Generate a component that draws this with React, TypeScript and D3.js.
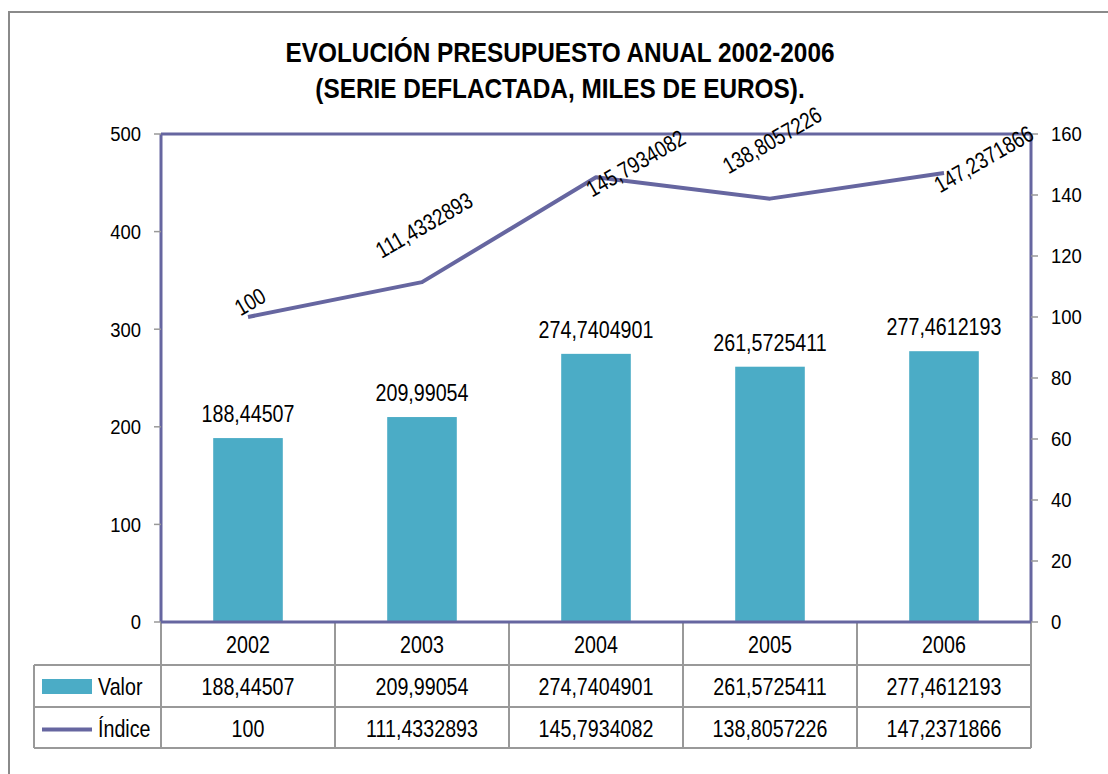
import React from "react";
import * as d3 from "d3";

const YEARS = ["2002", "2003", "2004", "2005", "2006"];
const VALOR = [188.44507, 209.99054, 274.7404901, 261.5725411, 277.4612193];
const VALOR_TXT = ["188,44507", "209,99054", "274,7404901", "261,5725411", "277,4612193"];
const INDICE = [100, 111.4332893, 145.7934082, 138.8057226, 147.2371866];
const INDICE_TXT = ["100", "111,4332893", "145,7934082", "138,8057226", "147,2371866"];
const LEFT_TICKS = [0, 100, 200, 300, 400, 500];
const RIGHT_TICKS = [0, 20, 40, 60, 80, 100, 120, 140, 160];
const INDICE_LABEL_MODE = ["above", "above", "right", "above", "right"];
const TITLE = ["EVOLUCIÓN PRESUPUESTO ANUAL 2002-2006", "(SERIE DEFLACTADA, MILES DE EUROS)."];

const FONT = '"Liberation Sans", Arial, sans-serif';
const BAR = "#4BACC6";
const LINE = "#6666A0";
const GRID = "#999999";
const SX = 0.82;

function measure(text: string, size: number, weight = "normal") {
  if (typeof document === "undefined") return text.length * size * 0.5;
  const c = document.createElement("canvas");
  const ctx = c.getContext("2d");
  if (!ctx) return text.length * size * 0.5;
  ctx.font = `${weight} ${size}px ${FONT}`;
  return ctx.measureText(text).width;
}

type TP = {
  x: number;
  y: number;
  size: number;
  anchor?: "start" | "middle" | "end";
  rot?: number;
  sx?: number;
  bold?: boolean;
  middle?: boolean;
  children: React.ReactNode;
};
function T({ x, y, size, anchor = "start", rot = 0, sx = SX, bold = false, middle = true, children }: TP) {
  return (
    <text
      transform={`translate(${x},${y}) rotate(${rot}) scale(${sx},1)`}
      textAnchor={anchor}
      dy={middle ? "0.35em" : undefined}
      fontSize={size}
      fontWeight={bold ? "bold" : "normal"}
      fill="#000"
    >
      {children}
    </text>
  );
}

export default function App() {
  const W = 1108, H = 774;
  const pl = 161, pr = 1031, pt = 134, pb = 622;
  const x = d3.scaleBand<string>().domain(YEARS).range([pl, pr]).padding(0);
  const yL = d3.scaleLinear().domain([0, 500]).range([pb, pt]);
  const yR = d3.scaleLinear().domain([0, 160]).range([pb, pt]);
  const bw = x.bandwidth() * 0.4;
  const cx = (y: string) => (x(y) as number) + x.bandwidth() / 2;
  const line = d3.line<number>().x((_, i) => cx(YEARS[i])).y((d) => yR(d));
  const fs = 24;
  const lfs = 23;
  const tickFs = 21;
  const rowH = [pb, 665, 707, 748];
  const tableLeft = 34;
  const ang = 30;
  const rad = (ang * Math.PI) / 180;

  return (
    <svg width={W} height={H} style={{ position: "absolute", left: 0, top: 0, fontFamily: FONT }}>
      <rect x={0} y={0} width={W} height={H} fill="#fff" />
      <rect x={9} y={12} width={W + 20} height={H + 20} fill="none" stroke="#8a8a8a" strokeWidth={2} />
      {TITLE.map((t, i) => (
        <T key={t} x={560} y={62 + i * 36} size={28} sx={0.87} bold anchor="middle" middle={false}>
          {t}
        </T>
      ))}
      {/* bars */}
      {VALOR.map((v, i) => (
        <rect key={YEARS[i]} x={cx(YEARS[i]) - bw / 2} y={yL(v)} width={bw} height={pb - yL(v)} fill={BAR} />
      ))}
      {/* plot border */}
      <line x1={pl} x2={pr} y1={pt} y2={pt} stroke={LINE} strokeWidth={3} />
      <line x1={pl} x2={pl} y1={pt} y2={pb} stroke={LINE} strokeWidth={3} />
      <line x1={pr} x2={pr} y1={pt} y2={pb} stroke={LINE} strokeWidth={3} />
      {/* left axis */}
      {LEFT_TICKS.map((t) => (
        <g key={"l" + t}>
          <line x1={pl - 7} x2={pl} y1={yL(t)} y2={yL(t)} stroke={GRID} strokeWidth={1.5} />
          <T x={pl - 20} y={yL(t)} anchor="end" size={tickFs} sx={0.88}>
            {t}
          </T>
        </g>
      ))}
      {/* right axis */}
      {RIGHT_TICKS.map((t) => (
        <g key={"r" + t}>
          <line x1={pr} x2={pr + 7} y1={yR(t)} y2={yR(t)} stroke={GRID} strokeWidth={1.5} />
          <T x={pr + 20} y={yR(t)} anchor="start" size={tickFs} sx={0.88}>
            {t}
          </T>
        </g>
      ))}
      {/* line */}
      <path d={line(INDICE) || ""} fill="none" stroke={LINE} strokeWidth={4} strokeLinejoin="round" />
      {/* bar labels */}
      {VALOR.map((v, i) => (
        <T key={"bl" + i} x={cx(YEARS[i])} y={yL(v) - 16} anchor="middle" size={fs} middle={false}>
          {VALOR_TXT[i]}
        </T>
      ))}
      {/* line labels */}
      {INDICE.map((v, i) => {
        const L = measure(INDICE_TXT[i], lfs) * SX;
        const px = cx(YEARS[i]);
        const py = yR(v);
        let lx: number, ly: number;
        if (INDICE_LABEL_MODE[i] === "right") {
          lx = px + (L * Math.cos(rad)) / 2 - 8;
          ly = py - 14;
        } else {
          lx = px + 2;
          ly = py + 2 - L * Math.sin(rad) * 1.1;
        }
        return (
          <T key={"ll" + i} x={lx} y={ly} rot={-ang} anchor="middle" size={lfs}>
            {INDICE_TXT[i]}
          </T>
        );
      })}
      {/* table */}
      <g stroke={GRID} strokeWidth={2}>
        {YEARS.map((y) => (
          <line key={"v" + y} x1={x(y) as number} x2={x(y) as number} y1={pb} y2={rowH[3]} />
        ))}
        <line x1={pr} x2={pr} y1={pb} y2={rowH[3]} />
        <line x1={tableLeft} x2={tableLeft} y1={rowH[1]} y2={rowH[3]} />
        <line x1={tableLeft} x2={pr} y1={rowH[1]} y2={rowH[1]} />
        <line x1={tableLeft} x2={pr} y1={rowH[2]} y2={rowH[2]} />
        <line x1={tableLeft} x2={pr} y1={rowH[3]} y2={rowH[3]} />
      </g>
      <line x1={pl} x2={pr} y1={pb} y2={pb} stroke={LINE} strokeWidth={3} />
      {YEARS.map((y, i) => (
        <g key={"t" + y}>
          <T x={cx(y)} y={(rowH[0] + rowH[1]) / 2 + 1} anchor="middle" size={fs}>
            {y}
          </T>
          <T x={cx(y)} y={(rowH[1] + rowH[2]) / 2 + 1} anchor="middle" size={fs}>
            {VALOR_TXT[i]}
          </T>
          <T x={cx(y)} y={(rowH[2] + rowH[3]) / 2 + 1} anchor="middle" size={fs}>
            {INDICE_TXT[i]}
          </T>
        </g>
      ))}
      {/* legend keys */}
      <rect x={42} y={(rowH[1] + rowH[2]) / 2 - 7} width={50} height={15} fill={BAR} />
      <T x={98} y={(rowH[1] + rowH[2]) / 2 + 1} size={fs}>
        Valor
      </T>
      <line x1={42} x2={92} y1={(rowH[2] + rowH[3]) / 2 + 2} y2={(rowH[2] + rowH[3]) / 2 + 2} stroke={LINE} strokeWidth={4} />
      <T x={98} y={(rowH[2] + rowH[3]) / 2 + 1} size={fs}>
        Índice
      </T>
    </svg>
  );
}
